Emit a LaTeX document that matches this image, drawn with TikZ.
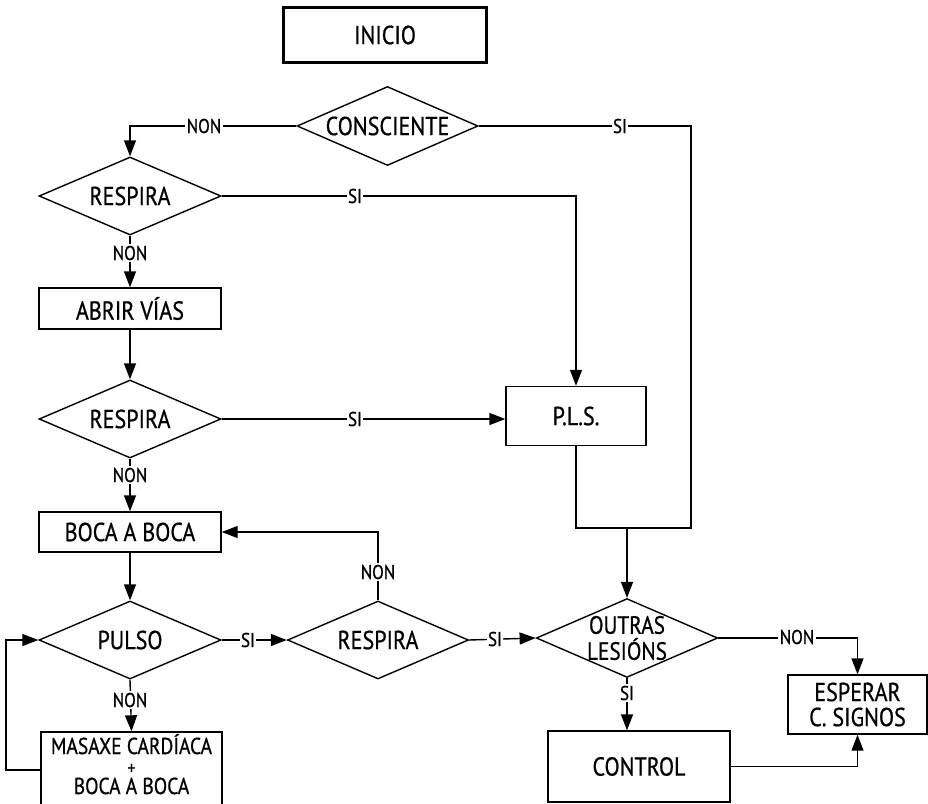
\documentclass[tikz,border=0pt]{standalone}
\usepackage{fontspec}
\setmainfont{PT Sans}[FakeStretch=0.85,FakeBold=0.7]
\usetikzlibrary{shapes.geometric,arrows.meta}
\begin{document}
\begin{tikzpicture}[x=1pt,y=-1pt,
  line width=1.4pt,
  every node/.style={font=\fontsize{26}{26}\selectfont},
  boxnode/.style={draw, rectangle, inner sep=0pt, align=center},
  decision/.style={draw, diamond, aspect=2.3, inner sep=0pt, align=center},
  lbl/.style={fill=white, inner sep=1.5pt, font=\fontsize{20}{20}\selectfont},
  arr/.style={-{Triangle[length=16pt,width=12pt]}},
]
\useasboundingbox (0,0) rectangle (928,803);
% nodes
\node[boxnode, line width=3pt, minimum width=203, minimum height=55] (inicio) at (385,35) {INICIO};
\node[decision, minimum width=181, minimum height=79] (consc) at (387.5,126) {CONSCIENTE};
\node[decision, minimum width=182, minimum height=78] (resp1) at (130,196) {RESPIRA};
\node[boxnode, minimum width=182, minimum height=41] (abrir) at (130,308.5) {ABRIR VÍAS};
\node[decision, minimum width=182, minimum height=78] (resp2) at (130,419) {RESPIRA};
\node[boxnode, minimum width=182, minimum height=40] (boca) at (130,532) {BOCA A BOCA};
\node[decision, minimum width=182, minimum height=78] (pulso) at (130,640) {PULSO};
\node[boxnode, minimum width=181, minimum height=76, font=\fontsize{23}{20}\selectfont] (masaxe) at (131.5,770) {MASAXE CARDÍACA\\{\fontsize{18}{18}\selectfont +}\\BOCA A BOCA\rule[-12pt]{0pt}{12pt}};
\node[decision, minimum width=181, minimum height=78] (resp3) at (378,640) {RESPIRA};
\node[boxnode, minimum width=140, minimum height=59] (pls) at (576,416) {P.L.S.};
\node[decision, minimum width=180, minimum height=78, font=\fontsize{25}{26}\selectfont] (outras) at (627,638) {OUTRAS\\LESIÓNS};
\node[boxnode, minimum width=139, minimum height=59, font=\fontsize{26}{25}\selectfont] (esperar) at (857.5,704.5) {ESPERAR\\C. SIGNOS};
\node[boxnode, minimum width=182, minimum height=71] (control) at (639,766.5) {CONTROL};
% junctions
\coordinate (j1) at (691,528);
\coordinate (j2) at (627,528);
\coordinate (lp) at (6,0);
% connectors
\draw[arr] (consc.west) -| (resp1.north);
\draw (consc.east) -| (j1) -| (pls.south);
\draw[arr] (j2) -- (outras.north);
\draw[arr] (resp1.east) -| (pls.north);
\draw[arr] (resp1.south) -- (abrir.north);
\draw[arr] (abrir.south) -- (resp2.north);
\draw[arr] (resp2.east) -- (resp2.east -| pls.west);
\draw[arr] (resp2.south) -- (boca.north);
\draw[arr] (boca.south) -- (pulso.north);
\draw[arr] (pulso.east) -- (resp3.west);
\draw[arr] (resp3.north) |- (boca.east);
\draw[arr] (pulso.south) -- (masaxe.north);
\draw[arr] (masaxe.west) -| (lp |- pulso.west) -- (pulso.west);
\draw[arr] (resp3.east) -- (outras.west);
\draw[arr] (outras.south) -- (outras.south |- control.north);
\draw[arr] (outras.east) -| (esperar.north);
\draw[arr] (control.east) -| (esperar.south);
% labels
\node[lbl] (l1) at (204,126) {NON};
\node[lbl] (l2) at (620,126) {SI};
\node[lbl] (l3) at (355,196) {SI};
\node[lbl] (l4) at (130,253) {NON};
\node[lbl] (l5) at (355,419) {SI};
\node[lbl] (l6) at (130,475) {NON};
\node[lbl] (l7) at (378,572) {NON};
\node[lbl] (l8) at (248,640) {SI};
\node[lbl] (l9) at (495,639) {SI};
\node[lbl] (l10) at (797,637) {NON};
\node[lbl] (l11) at (130,700) {NON};
\node[lbl] (l12) at (627,693) {SI};
\end{tikzpicture}
\end{document}
